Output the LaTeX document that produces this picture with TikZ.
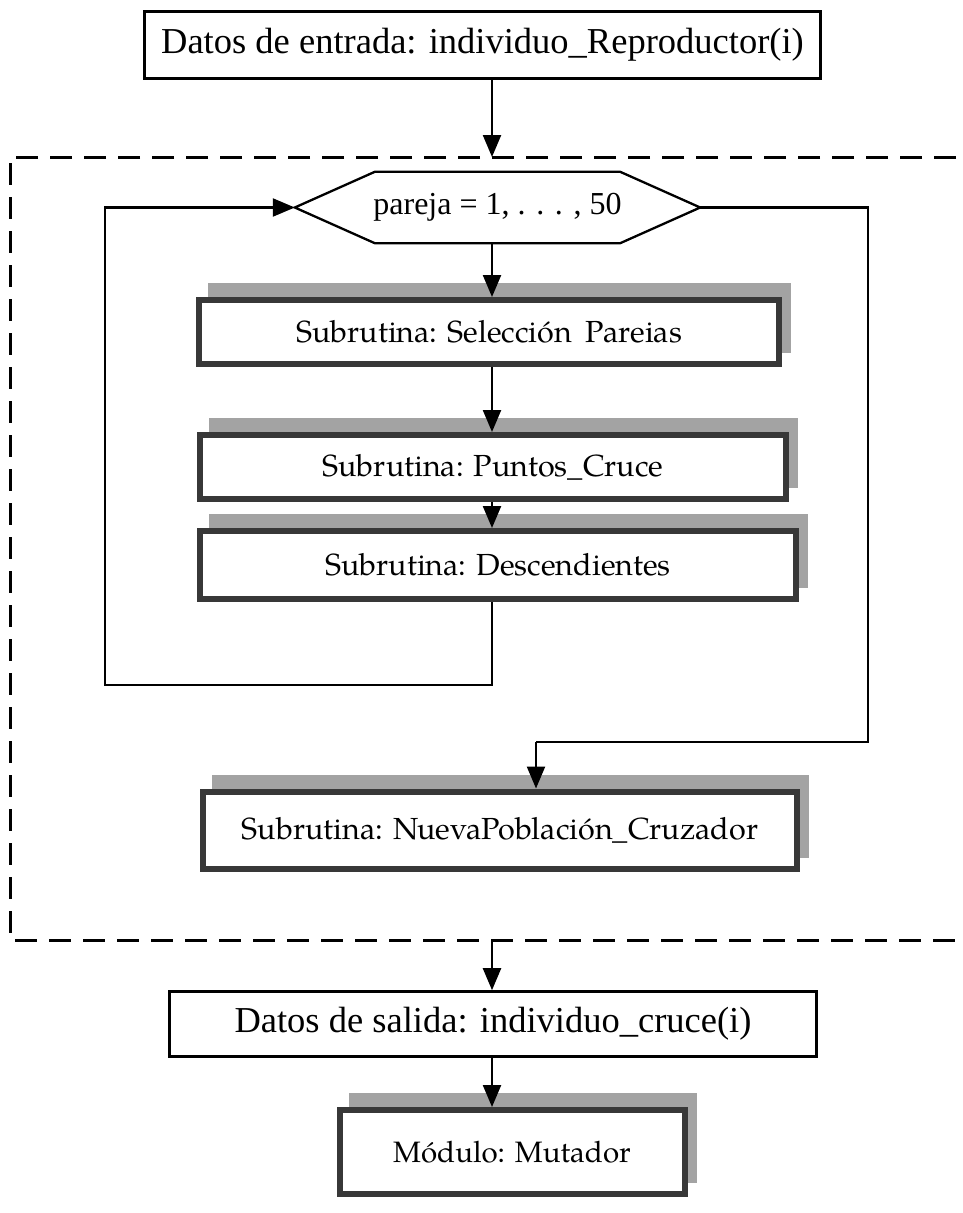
\documentclass[tikz,border=0pt]{standalone}
\usepackage{fontspec}
\setmainfont{Liberation Serif}
\newfontfamily\pala{TeX Gyre Pagella}
\usetikzlibrary{arrows.meta,calc,backgrounds}

\begin{document}
\begin{tikzpicture}[x=1pt,y=-1pt,
  conn/.style={line width=2.3pt,-{Triangle[length=22pt,width=18pt]}},
  wire/.style={line width=2.3pt},
  plainbox/.style={draw,line width=2.6pt,fill=white,inner sep=0pt,
    font=\fontsize{36.5}{42}\selectfont},
  subbox/.style={draw=black!78,line width=6pt,fill=white,inner sep=0pt,
    font=\pala\fontsize{30.5}{36}\selectfont},
  shade/.style={fill=black!36},
  frame/.style={line width=3pt,dash pattern=on 22pt off 12pt},
  hexline/.style={line width=2.3pt,fill=white,line join=miter}
]
\useasboundingbox (0,0) rectangle (962,1213);
\clip (0,0) rectangle (962,1213);

% arrow column
\coordinate (col) at (492,0);

% input data
\node[plainbox,minimum width=676pt,minimum height=67pt] (in) at (482.5,45)
  {Datos de entrada: individuo\_Reproductor(i)};

% dashed frame (its right side runs off the page)
\coordinate (ftop) at (492,157);
\coordinate (fbot) at (492,940);
\draw[frame] (990,157) -- (10,157) -- (10,940) -- (990,940);

% loop header (hexagon)
\node[minimum width=405pt,minimum height=71pt,inner sep=0pt] (hex) at (497.5,207.5) {};
\draw[hexline] (hex.west) -- ($(hex.north west)+(80,0)$) -- ($(hex.north east)+(-80,0)$)
  -- (hex.east) -- ($(hex.south east)+(-80,0)$) -- ($(hex.south west)+(80,0)$) -- cycle;
\node[font=\fontsize{32}{38}\selectfont] (hext) at (hex.center) {pareja = 1, . . . , 50};

% subroutines
\node[subbox,minimum width=580pt,minimum height=64pt] (sel) at (489,332)
  {Subrutina: Selección\hspace{14pt}Pareias};
\node[subbox,minimum width=586pt,minimum height=64pt] (pc) at (493,467)
  {Subrutina: Puntos\_Cruce};
\node[subbox,minimum width=596pt,minimum height=68pt] (desc) at (498,565)
  {Subrutina: Descendientes};
\node[subbox,minimum width=594pt,minimum height=77pt] (nueva) at (500,830)
  {Subrutina: NuevaPoblación\_Cruzador};

% output data and next module
\node[plainbox,minimum width=647pt,minimum height=65pt] (out) at (493,1024)
  {Datos de salida: individuo\_cruce(i)};
\node[subbox,minimum width=345pt,minimum height=84pt,
  font=\pala\fontsize{29.5}{36}\selectfont] (mut) at (512,1152)
  {Módulo: Mutador};

% offset shadows behind the subroutine boxes
\begin{scope}[on background layer]
  \foreach \n in {sel,pc,desc,nueva,mut}{
    \fill[shade] ($(\n.south west)+(12,-14)$) rectangle ($(\n.north east)+(9,-14)$);
  }
\end{scope}

% connectors
\draw[conn] (in.south -| col) -- (ftop);
\draw[conn] (hex.south -| col) -- (sel.north -| col);
\draw[conn] (sel.south -| col) -- (pc.north -| col);
\draw[conn] (pc.south -| col) -- (desc.north -| col);

\coordinate (lb) at (105,685);
\draw[conn] (desc.south -| col) |- (lb) -- (lb |- hex.west) -- (hex.west);

\coordinate (rt) at (868,742);
\coordinate (nc) at (536,742);
\draw[wire] (hex.east) -| (rt) -- (nc);
\draw[conn] (nc) -- (nueva.north -| nc);

\draw[conn] (fbot) -- (out.north -| col);
\draw[conn] (out.south -| col) -- (mut.north -| col);
\end{tikzpicture}
\end{document}
